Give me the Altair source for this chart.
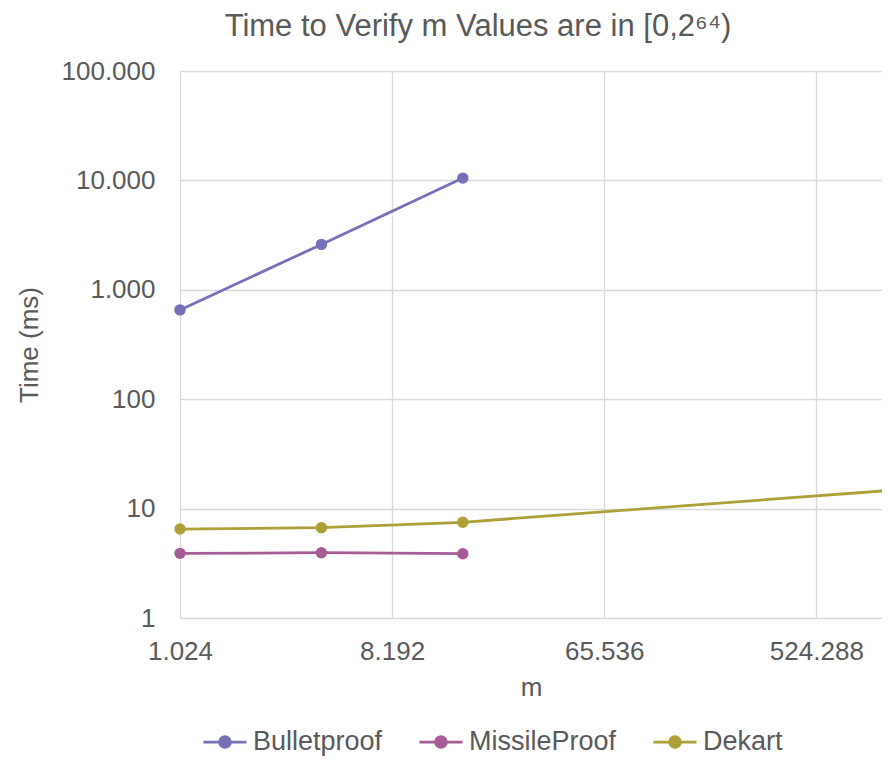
import altair as alt
import pandas as pd

# ---- data ----
m_values = [1024, 4096, 16384, 1048576]
series = ["Bulletproof", "MissileProof", "Dekart"]
bulletproof = [655, 2600, 10500]
missileproof = [3.90, 3.95, 3.87]
dekart = [6.5, 6.7, 7.5, 14.6]
colors = ["#7570B8", "#A75C98", "#AE9F37"]
x_ticks = [1024, 8192, 65536, 524288]
y_ticks = [1, 10, 100, 1000, 10000, 100000]

rows = []
for name, vals in zip(series, [bulletproof, missileproof, dekart]):
    for m, v in zip(m_values, vals):
        rows.append({"m": m, "time": v, "series": name})
df = pd.DataFrame(rows)

FONT = "Liberation Sans"
GRAY = "#595959"
fmt = "replace(format(datum.value, ','), regexp(',', 'g'), '.')"

legend_path = ("M-1,0L1,0M0.25,0A0.25,0.25,0,1,1,-0.25,0"
               "A0.25,0.25,0,1,1,0.25,0Z")

color = alt.Color(
    "series:N",
    scale=alt.Scale(domain=series, range=colors),
    legend=alt.Legend(
        title=None, orient="none", direction="horizontal",
        legendX=22, legendY=648,
        symbolType=legend_path, symbolSize=1849, symbolStrokeWidth=2.75,
        labelFontSize=27, labelColor=GRAY, labelFont=FONT,
        labelOffset=5, columnPadding=31,
    ),
)

base = alt.Chart(df).encode(
    x=alt.X(
        "m:Q",
        scale=alt.Scale(type="log", base=2, domain=[1024, 998000], nice=False),
        axis=alt.Axis(values=x_ticks, labelExpr=fmt, title="m",
                      labelPadding=20, titlePadding=10, labelFlush=False),
    ),
    y=alt.Y(
        "time:Q",
        scale=alt.Scale(type="log", domain=[1, 100000], nice=False),
        axis=alt.Axis(values=y_ticks, labelExpr=fmt, title="Time (ms)",
                      labelPadding=25, titlePadding=19),
    ),
    color=color,
)

lines = base.mark_line(strokeWidth=2.75)
points = base.mark_point(filled=True, size=130, opacity=1)

chart = (
    (lines + points)
    .properties(
        width=702,
        height=547,
        title=alt.TitleParams(
            "Time to Verify m Values are in [0,2⁶⁴)",
            fontSize=31, font=FONT, color=GRAY, fontWeight="normal",
            anchor="middle", dx=-53, offset=15,
        ),
        padding={"left": 172, "top": 63, "right": 0, "bottom": 141},
        autosize="none",
    )
    .configure_view(stroke=None)
    .configure_axis(
        domain=False, ticks=False,
        grid=True, gridColor="#D9D9D9", gridWidth=1.3,
        labelFont=FONT, labelFontSize=26, labelColor=GRAY,
        titleFont=FONT, titleFontSize=26, titleColor=GRAY,
        titleFontWeight="normal",
    )
)

chart.save("out.html", embed_options={"renderer": "svg", "actions": False})
